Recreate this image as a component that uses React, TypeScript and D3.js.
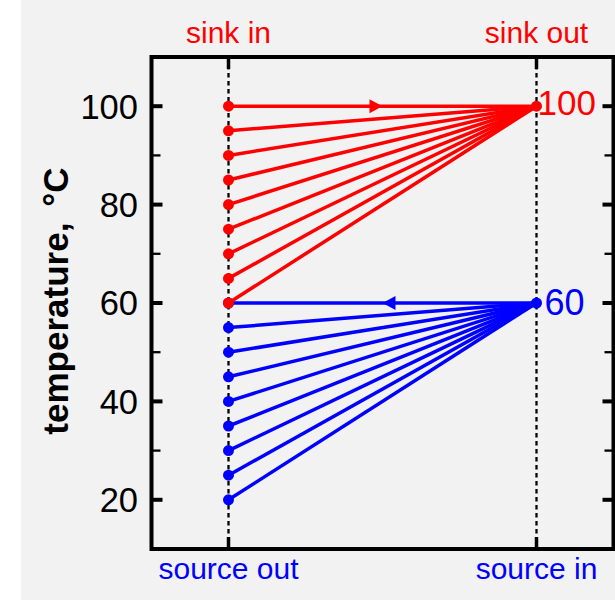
import React from 'react'
import * as d3 from 'd3'

// temperatures, °C
const sinkInTemps = [60, 65, 70, 75, 80, 85, 90, 95, 100]
const sinkOutTemp = 100
const sourceOutTemps = [20, 25, 30, 35, 40, 45, 50, 55, 60]
const sourceInTemp = 60

const majorTicks = [20, 40, 60, 80, 100]
const minorTicks = [30, 50, 70, 90]

// x positions of the two columns
const leftCol = 1
const rightCol = 5
const arrowAt = 3

const W = 615
const H = 600
const font = 'Liberation Sans, Arial, sans-serif'

const App = () => {
  const x = d3.scaleLinear().domain([0, 6]).range([151.5, 613.5])
  const y = d3.scaleLinear().domain([10, 110]).range([549, 57])
  const line = d3.line<[number, number]>().x(d => x(d[0])).y(d => y(d[1]))

  const x0 = x.range()[0], x1 = x.range()[1]
  const y0 = y.range()[1], y1 = y.range()[0]

  const arrow = (t: number, dir: number, color: string) => {
    const cx = x(arrowAt), cy = y(t)
    const pts = [[cx, cy], [cx - dir * 13, cy - 7], [cx - dir * 13, cy + 7]]
    return <polygon points={pts.map(p => p.join(',')).join(' ')} fill={color} />
  }

  return (
    <svg width={W} height={H} style={{ position: 'absolute', left: 0, top: 0, display: 'block' }}>
      <rect x={0} y={0} width={W} height={H} fill="#fff" />
      <rect x={21} y={0} width={W - 21} height={H} fill="#f2f2f2" />

      {/* dashed column lines */}
      {[leftCol, rightCol].map(c => (
        <g key={c}>
          <line x1={x(c)} x2={x(c)} y1={y0} y2={y1} stroke="#000" strokeWidth={2.3} strokeDasharray="4.5,3.5" />
          <line x1={x(c)} x2={x(c)} y1={y0} y2={y0 + 12} stroke="#000" strokeWidth={3.5} />
          <line x1={x(c)} x2={x(c)} y1={y1} y2={y1 - 12} stroke="#000" strokeWidth={3.5} />
        </g>
      ))}

      {/* y ticks both sides */}
      {majorTicks.map(t => (
        <g key={'M' + t}>
          <line x1={x0} x2={x0 + 11} y1={y(t)} y2={y(t)} stroke="#000" strokeWidth={4} />
          <line x1={x1} x2={x1 - 11} y1={y(t)} y2={y(t)} stroke="#000" strokeWidth={4} />
          <text x={138} y={y(t)} dy="0.36em" textAnchor="end" fontSize={34.5} fontFamily={font} fill="#000">{t}</text>
        </g>
      ))}
      {minorTicks.map(t => (
        <g key={'m' + t}>
          <line x1={x0} x2={x0 + 9} y1={y(t)} y2={y(t)} stroke="#000" strokeWidth={2.3} />
          <line x1={x1} x2={x1 - 9} y1={y(t)} y2={y(t)} stroke="#000" strokeWidth={2.3} />
        </g>
      ))}

      {/* source lines */}
      {sourceOutTemps.map(t => (
        <path key={'s' + t} d={line([[leftCol, t], [rightCol, sourceInTemp]]) || ''} stroke="#0000ff" strokeWidth={3.5} fill="none" />
      ))}
      {sourceOutTemps.map(t => (
        <circle key={'sc' + t} cx={x(leftCol)} cy={y(t)} r={5.5} fill="#0000ff" />
      ))}
      <circle cx={x(rightCol)} cy={y(sourceInTemp)} r={5.5} fill="#0000ff" />
      {arrow(sourceInTemp, -1, '#0000ff')}

      {/* sink lines */}
      {sinkInTemps.map(t => (
        <path key={'k' + t} d={line([[leftCol, t], [rightCol, sinkOutTemp]]) || ''} stroke="#ff0000" strokeWidth={3.5} fill="none" />
      ))}
      {sinkInTemps.map(t => (
        <circle key={'kc' + t} cx={x(leftCol)} cy={y(t)} r={5.5} fill="#ff0000" />
      ))}
      <circle cx={x(rightCol)} cy={y(sinkOutTemp)} r={5.5} fill="#ff0000" />
      {arrow(sinkOutTemp, 1, '#ff0000')}

      {/* end labels */}
      <text x={x(rightCol) + 1} y={y(sinkOutTemp) + 9} fontSize={35} fontFamily={font} fill="#ff0000">{sinkOutTemp}</text>
      <text x={x(rightCol) + 8} y={y(sourceInTemp) + 12} fontSize={36} fontFamily={font} fill="#0000ff">{sourceInTemp}</text>

      {/* frame */}
      <rect x={x0} y={y0} width={x1 - x0} height={y1 - y0} fill="none" stroke="#000" strokeWidth={4} />

      {/* column labels */}
      <text x={x(leftCol)} y={43} textAnchor="middle" fontSize={30} fontFamily={font} fill="#ff0000">sink in</text>
      <text x={x(rightCol)} y={43} textAnchor="middle" fontSize={30} fontFamily={font} fill="#ff0000">sink out</text>
      <text x={x(leftCol)} y={579} textAnchor="middle" fontSize={30} fontFamily={font} fill="#0000ff">source out</text>
      <text x={x(rightCol)} y={579} textAnchor="middle" fontSize={30} fontFamily={font} fill="#0000ff">source in</text>

      {/* y label */}
      <text transform={`translate(68,${301}) rotate(-90)`} textAnchor="middle" fontSize={35} fontWeight="bold" fontFamily={font} fill="#000">
        temperature,<tspan dx={16}>°C</tspan>
      </text>
    </svg>
  )
}

export default App
